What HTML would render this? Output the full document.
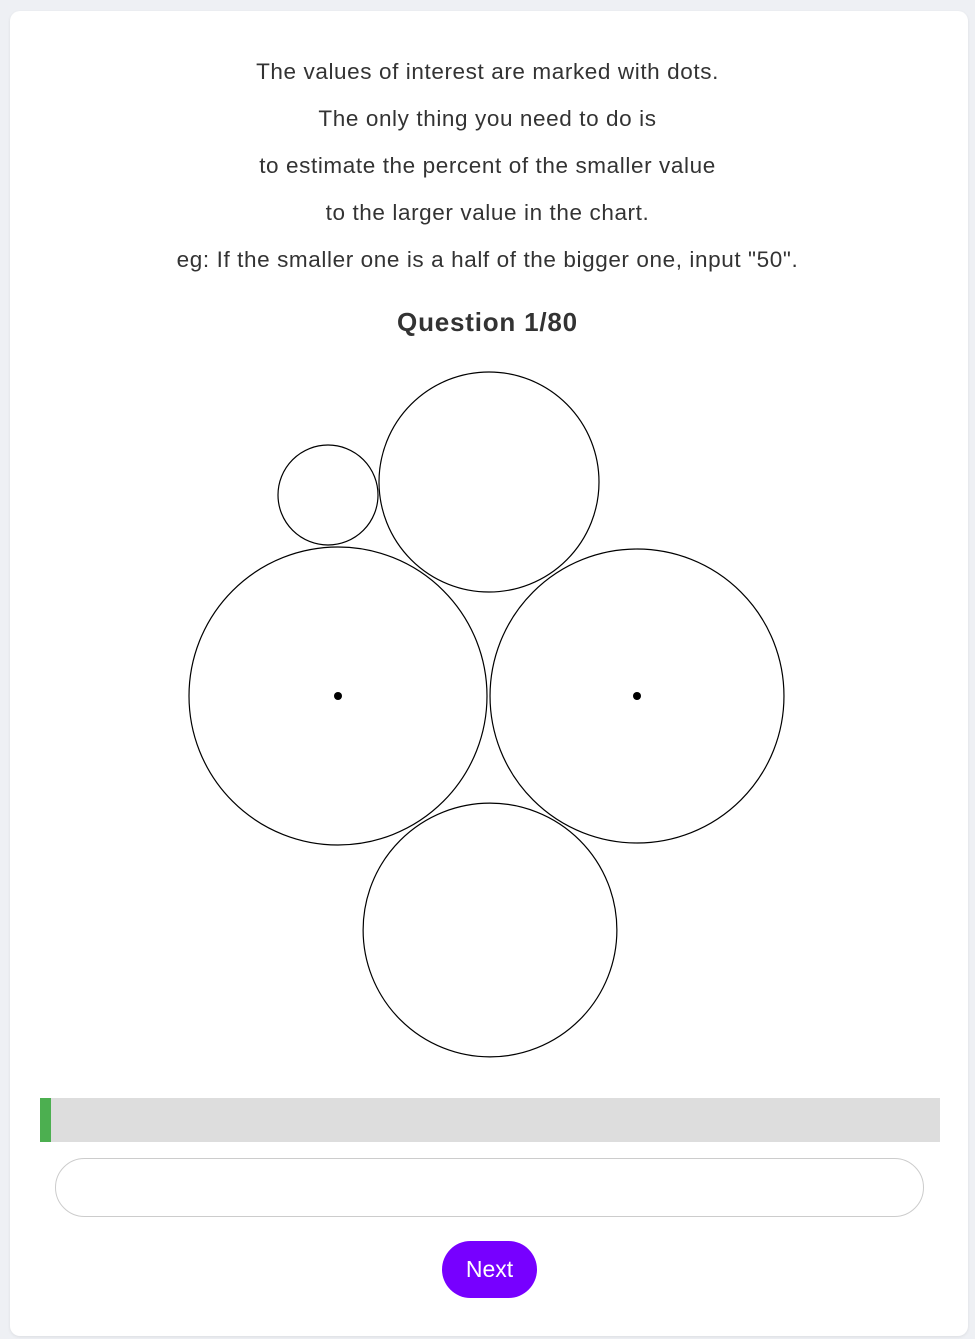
<!DOCTYPE html>
<html><head><meta charset="utf-8"><style>
html,body{margin:0;padding:0;width:975px;height:1339px;background:#eef0f4;overflow:hidden;font-family:"Liberation Sans",sans-serif;}
.card{position:absolute;left:10px;top:11px;width:958px;height:1325px;background:#fff;border-radius:10px;box-shadow:0 1px 3px rgba(0,0,0,0.08);}
.line{position:absolute;left:0;width:975px;text-align:center;font-size:22.5px;letter-spacing:0.6px;color:#333;line-height:24px;}
.title{position:absolute;left:0;width:975px;text-align:center;font-size:26px;letter-spacing:0.8px;font-weight:bold;color:#333;top:308px;line-height:28px;}
.bar{position:absolute;left:40px;top:1098px;width:900px;height:44px;background:#dddddd;}
.fill{position:absolute;left:0;top:0;width:11px;height:44px;background:#4caf50;}
.input{position:absolute;left:55px;top:1158px;width:867px;height:57px;border:1px solid #ccc;border-radius:30px;background:#fff;box-sizing:content-box;}
.btn{position:absolute;left:442px;top:1241px;width:95px;height:57px;border-radius:29px;background:#7700ff;color:#fff;font-size:23px;line-height:57px;text-align:center;}
</style></head><body>
<div class="card"></div>
<div class="line" style="top:60px">The values of interest are marked with dots.</div>
<div class="line" style="top:107px">The only thing you need to do is</div>
<div class="line" style="top:154px">to estimate the percent of the smaller value</div>
<div class="line" style="top:201px">to the larger value in the chart.</div>
<div class="line" style="top:248px">eg: If the smaller one is a half of the bigger one, input "50".</div>
<div class="title">Question 1/80</div>
<svg id="chart" width="975" height="1339" style="position:absolute;left:0;top:0"></svg>
<div class="bar"><div class="fill"></div></div>
<div class="input"></div>
<div class="btn">Next</div>
<script>
const labels = ["a","b","c","d","e"];
const values = [2500, 12100, 22200, 21600, 16100];
const marked = [false, false, true, true, false];
const centersX = [328, 489, 338, 637, 490];
const centersY = [495, 482, 696, 696, 930];
const ns = "http://www.w3.org/2000/svg";
const svg = document.getElementById("chart");
function rScale(v){ return Math.sqrt(v); }
for (let i = 0; i < values.length; i++) {
  const c = document.createElementNS(ns, "circle");
  c.setAttribute("cx", centersX[i]);
  c.setAttribute("cy", centersY[i]);
  c.setAttribute("r", rScale(values[i]));
  c.setAttribute("fill", "none");
  c.setAttribute("stroke", "#000");
  c.setAttribute("stroke-width", "1.2");
  
  
  svg.appendChild(c);
  if (marked[i]) {
    const d = document.createElementNS(ns, "circle");
    d.setAttribute("cx", centersX[i]);
    d.setAttribute("cy", centersY[i]);
    d.setAttribute("r", 4);
    d.setAttribute("fill", "#000");
    
    
    svg.appendChild(d);
  }
}
</script>
</body></html>
